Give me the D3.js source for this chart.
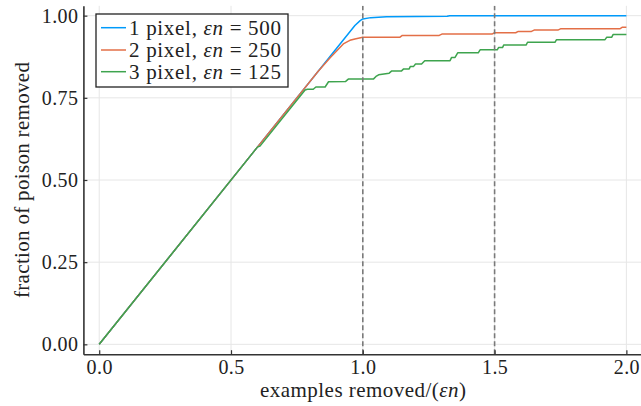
<!DOCTYPE html>
<html><head><meta charset="utf-8">
<script src="https://cdn.jsdelivr.net/npm/d3@7"></script>
<style>body{margin:0;background:#fff}svg{display:block}text{font-family:"Liberation Serif","Times New Roman",serif;fill:#222}</style>
</head><body>
<script>
const xTicks = [0, 0.5, 1.0, 1.5, 2.0];
const xTickLabels = ["0.0", "0.5", "1.0", "1.5", "2.0"];
const yTicks = [0, 0.25, 0.5, 0.75, 1.0];
const yTickLabels = ["0.00", "0.25", "0.50", "0.75", "1.00"];
const vlines = [1.0, 1.5];

const seriesNames = ["1 pixel, ", "2 pixel, ", "3 pixel, "];
const seriesEps = ["500", "250", "125"];
const colors = ["#009AFA", "#E36F47", "#3EA44E"];

const blueX = [0, 0.83, 0.97, 0.99, 1.0, 1.03, 1.09, 1.32, 1.33, 2.0];
const blueY = [0, 0.83, 0.97, 0.985, 0.99, 0.994, 0.997, 0.998, 1.0, 1.0];

const redX = [0, 0.83, 0.876, 0.926, 0.951, 0.97, 1.0, 1.14, 1.15, 1.29, 1.30, 1.49, 1.50, 1.58, 1.59, 1.64, 1.65, 1.74, 1.75, 1.975, 1.985, 2.0];
const redY = [0, 0.83, 0.872, 0.914, 0.925, 0.929, 0.934, 0.934, 0.940, 0.940, 0.944, 0.944, 0.948, 0.948, 0.952, 0.952, 0.956, 0.956, 0.960, 0.960, 0.965, 0.965];

const greenX = [0, 0.6, 0.61, 0.781, 0.79, 0.812, 0.822, 0.857, 0.87, 0.935, 0.945, 1.04, 1.05, 1.06, 1.10, 1.11, 1.147, 1.155, 1.176, 1.18, 1.192, 1.20, 1.223, 1.235, 1.331, 1.337, 1.35, 1.36, 1.438, 1.445, 1.51, 1.515, 1.53, 1.535, 1.62, 1.625, 1.729, 1.735, 1.919, 1.925, 1.944, 1.95, 2.0];
const greenY = [0, 0.6, 0.603, 0.774, 0.776, 0.776, 0.783, 0.783, 0.799, 0.800, 0.807, 0.807, 0.815, 0.820, 0.825, 0.832, 0.832, 0.838, 0.838, 0.845, 0.845, 0.853, 0.853, 0.863, 0.863, 0.873, 0.873, 0.887, 0.887, 0.896, 0.896, 0.903, 0.903, 0.911, 0.911, 0.919, 0.919, 0.927, 0.927, 0.934, 0.934, 0.943, 0.943];

const W = 641, H = 406;
const FS = "20px", FL = "21px";
const svg = d3.select("body").append("svg").attr("width", W).attr("height", H);

const x = d3.scaleLinear().domain([-0.06, 2.06]).range([83.4, 642.2]);
const y = d3.scaleLinear().domain([-0.03, 1.03]).range([354.2, 5.8]);
const [x0, x1] = x.range();
const [y0, y1] = y.range();

svg.append("defs").append("clipPath").attr("id", "clip")
  .append("rect").attr("x", x0).attr("y", y1).attr("width", x1 - x0).attr("height", y0 - y1);

// grid
const grid = svg.append("g");
grid.selectAll(".gx").data(xTicks).join("line")
  .attr("x1", d => x(d)).attr("x2", d => x(d)).attr("y1", y0).attr("y2", y1)
  .attr("stroke", "#e6e6e6").attr("stroke-width", 1);
grid.selectAll(".gy").data(yTicks).join("line")
  .attr("y1", d => y(d)).attr("y2", d => y(d)).attr("x1", x0).attr("x2", x1)
  .attr("stroke", "#e6e6e6").attr("stroke-width", 1);

// series
const series = [
  blueX.map((v, i) => [v, blueY[i]]),
  redX.map((v, i) => [v, redY[i]]),
  greenX.map((v, i) => [v, greenY[i]])
];
const line = d3.line().x(d => x(d[0])).y(d => y(d[1]));
const lg = svg.append("g").attr("clip-path", "url(#clip)");
series.forEach((s, i) => {
  lg.append("path").attr("d", line(s)).attr("fill", "none")
    .attr("stroke", colors[i]).attr("stroke-width", 1.5).attr("stroke-linejoin", "round");
});

// vlines
lg.selectAll(".vl").data(vlines).join("line")
  .attr("x1", d => x(d)).attr("x2", d => x(d)).attr("y1", y0).attr("y2", y1)
  .attr("stroke", "#7a7a7a").attr("stroke-width", 1.6).attr("stroke-dasharray", "5,3");

// axes
const xAxis = d3.axisBottom(x).tickValues(xTicks).tickFormat((d, i) => xTickLabels[i]).tickSizeInner(-4).tickSizeOuter(0).tickPadding(6);
const gx = svg.append("g").attr("transform", `translate(0,${y0})`).call(xAxis);
const yAxis = d3.axisLeft(y).tickValues(yTicks).tickFormat((d, i) => yTickLabels[i]).tickSizeInner(-4).tickSizeOuter(0).tickPadding(5);
const gy = svg.append("g").attr("transform", `translate(${x0},0)`).call(yAxis);
[gx, gy].forEach(g => {
  g.select(".domain").attr("stroke", "#333").attr("stroke-width", 1.6);
  g.selectAll(".tick line").attr("stroke", "#333").attr("stroke-width", 1.2);
  g.selectAll(".tick text").style("font-family", '"Liberation Serif", serif').style("font-size", FS)
    .style("letter-spacing", "0.4px").attr("fill", "#222");
});

// axis labels
svg.append("text").attr("x", 260).attr("y", 397).attr("textLength", 206).attr("lengthAdjust", "spacing")
  .style("font-size", FL)
  .call(t => { t.append("tspan").text("examples removed/("); t.append("tspan").style("font-style", "italic").text("εn"); t.append("tspan").text(")"); });
svg.append("text").attr("transform", `translate(29,298) rotate(-90)`)
  .attr("textLength", 236).attr("lengthAdjust", "spacing")
  .style("font-size", FL).text("fraction of poison removed");

// legend
const leg = svg.append("g");
leg.append("rect").attr("x", 96).attr("y", 14).attr("width", 192).attr("height", 73)
  .attr("fill", "#fff").attr("stroke", "#222").attr("stroke-width", 1.3);
const rows = [27.7, 50, 71.7];
seriesNames.forEach((n, i) => {
  leg.append("line").attr("x1", 101).attr("x2", 126).attr("y1", rows[i]).attr("y2", rows[i])
    .attr("stroke", colors[i]).attr("stroke-width", 1.5);
  const t = leg.append("text").attr("x", 129).attr("y", rows[i] + 7).style("font-size", FL)
    .attr("textLength", 152).attr("lengthAdjust", "spacing");
  t.append("tspan").text(n);
  t.append("tspan").style("font-style", "italic").text("εn");
  t.append("tspan").text(" = " + seriesEps[i]);
});
</script>
</body></html>
